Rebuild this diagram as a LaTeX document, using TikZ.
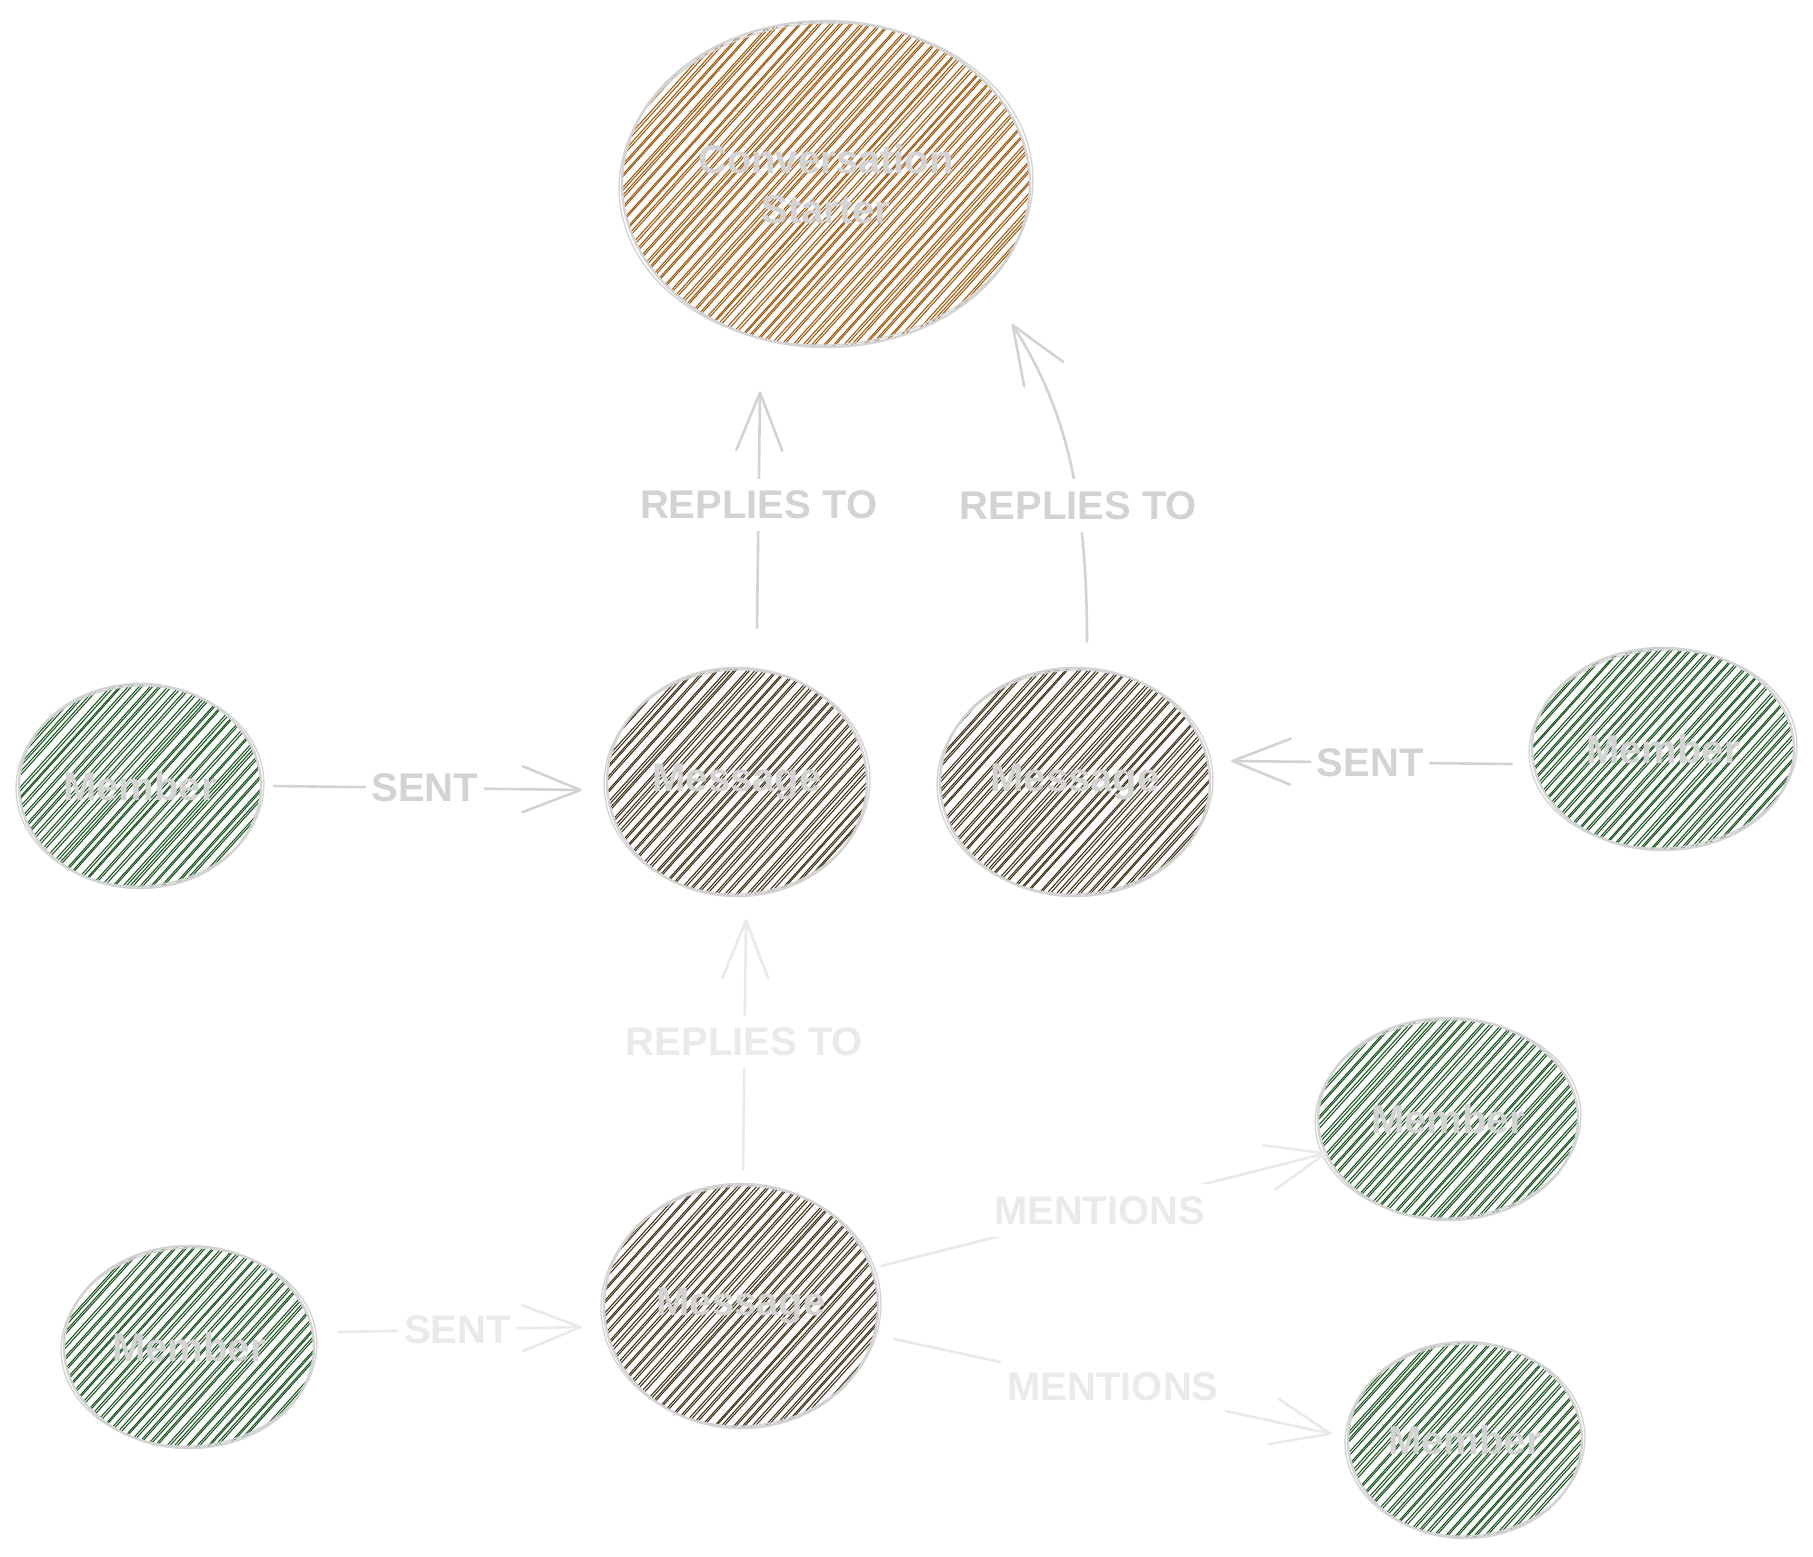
\documentclass[tikz,border=0pt]{standalone}
\usepackage{fontspec}
\setmainfont{Liberation Sans}
\usetikzlibrary{shapes.geometric,arrows.meta,calc}

\definecolor{edge}{RGB}{211,211,211}
\definecolor{faint}{RGB}{234,234,234}
\definecolor{starterfill}{RGB}{160,88,12}
\definecolor{messagefill}{RGB}{62,48,22}
\definecolor{memberfill}{RGB}{22,84,26}

\tikzset{
  outline/.style={draw=edge, line width=2.4pt},
  hatch/.style={draw=#1, line width=1.05pt, line cap=round},
  blobtext/.style={ellipse, inner sep=0pt, text=edge, align=center,
    font=\bfseries\fontsize{40}{50}\selectfont},
  conn/.style={draw=#1, line width=2.6pt, line cap=round,
    -{Straight Barb[length=58pt,width=46pt,round]}},
  lbl/.style={fill=white, text=#1, font=\bfseries\fontsize{40}{50}\selectfont,
    inner xsep=6pt, inner ysep=12pt},
}

% sketchy hatched ellipse: name, cx, cy, rx, ry, hatch colour, text
\newcommand\blob[7]{%
  \pgfmathsetmacro\br{max(#4,#5)+6}%
  \pgfmathtruncatemacro\bn{2*\br/7.5}%
  \begin{scope}
    \clip (#2,#3) ellipse [x radius=#4pt, y radius=#5pt];
    \foreach \i in {0,...,\bn} {
      \pgfmathsetmacro\hp{-\br+7.5*\i+rand*1.4}
      \pgfmathsetmacro\hq{\hp+1.3+rnd*1.3}
      \pgfmathsetmacro\la{\br*(0.9+0.1*rnd)}
      \pgfmathsetmacro\lb{\br*(0.9+0.1*rnd)}
      \draw[hatch=#6] ({#2+\hp*0.743-\br*0.669},{#3+\hp*0.669+\br*0.743})
        -- ({#2+\hp*0.743+\br*0.669},{#3+\hp*0.669-\br*0.743});
      \draw[hatch=#6] ({#2+\hq*0.743-\la*0.669},{#3+\hq*0.669+\la*0.743})
        -- ({#2+\hq*0.743+\lb*0.669},{#3+\hq*0.669-\lb*0.743});
    }
  \end{scope}
  \pgfmathsetmacro\rxb{#4+3}%
  \pgfmathsetmacro\ryb{#5-2}%
  \pgfmathsetmacro\dw{2*#4}%
  \pgfmathsetmacro\dh{2*#5}%
  \draw[outline] (#2,#3) ellipse [x radius=#4pt, y radius=#5pt];
  \draw[outline, line width=1.3pt, rotate around={3:(#2,#3)}]
    (#2,#3) ellipse [x radius=\rxb pt, y radius=\ryb pt];
  \node[blobtext, minimum width=\dw pt, minimum height=\dh pt] (#1) at (#2,#3) {#7};
}

\begin{document}
\begin{tikzpicture}[x=1pt, y=-1pt]
  \pgfmathsetseed{11}
  \fill[white] (0,0) rectangle (1813,1556);
  \useasboundingbox (0,0) rectangle (1813,1556);

  % nodes
  \blob{cs}{826}{184}{204}{163}{starterfill}{Conversation\\Starter}
  \blob{m1}{737}{782}{130}{114}{messagefill}{Message}
  \blob{m2}{1075}{782}{135}{114}{messagefill}{Message}
  \blob{m3}{741}{1306}{137}{122}{messagefill}{Message}
  \blob{ml}{140}{786}{121}{102}{memberfill}{Member}
  \blob{mr}{1663}{749}{131}{101}{memberfill}{Member}
  \blob{mbl}{189}{1347}{125}{101}{memberfill}{Member}
  \blob{mm1}{1448}{1119}{130}{101}{memberfill}{Member}
  \blob{mm2}{1465}{1440}{117}{98}{memberfill}{Member}

  % connectors
  \draw[conn=edge] ([shift={(20,-40)}]m1.north)
    -- node[lbl=edge, pos=0.52] {REPLIES TO} ([shift={(-66,44)}]cs.south);
  \draw[conn=edge] ([shift={(12,-26)}]m2.north)
    .. controls +(0,-162) and +(48,76) .. ([shift={(186,140)}]cs.center)
    node[lbl=edge, pos=0.33] {REPLIES TO};
  \draw[conn=faint] ([shift={(2,-14)}]m3.north)
    -- node[lbl=faint, pos=0.51] {REPLIES TO} ([shift={(9,23)}]m1.south);
  \draw[conn=edge] ([shift={(13,0)}]ml.east)
    -- node[lbl=edge, pos=0.49] {SENT} ([shift={(-25,8)}]m1.west);
  \draw[conn=edge] ([shift={(-20,15)}]mr.west)
    -- node[lbl=edge, pos=0.505] {SENT} ([shift={(21,-21)}]m2.east);
  \draw[conn=faint] ([shift={(24,-15)}]mbl.east)
    -- node[lbl=faint, pos=0.49] {SENT} ([shift={(-22,21)}]m3.west);
  \draw[conn=faint] ([shift={(3,-40)}]m3.east)
    -- node[lbl=faint, pos=0.49] {MENTIONS} ([shift={(9,34)}]mm1.west);
  \draw[conn=faint] ([shift={(16,33)}]m3.east)
    -- node[lbl=faint, pos=0.5] {MENTIONS} ([shift={(-16,-6)}]mm2.west);
\end{tikzpicture}
\end{document}
